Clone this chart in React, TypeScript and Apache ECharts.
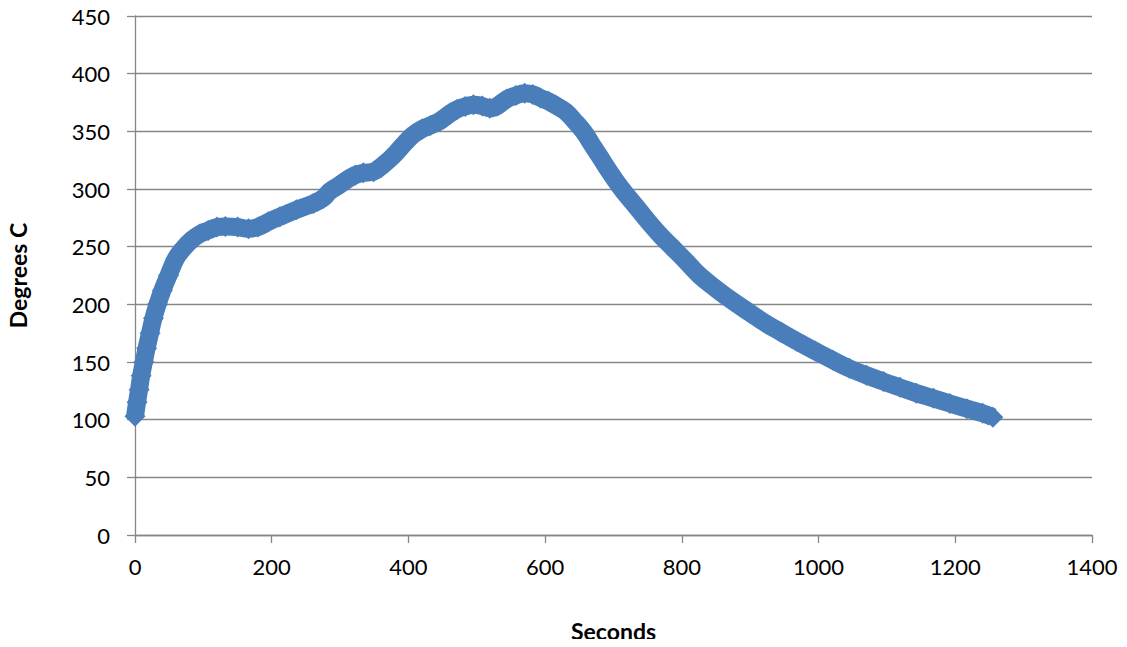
import React, { useEffect, useRef } from "react";
import * as echarts from "echarts";

const seconds: number[] = [
  0, 3, 6, 9, 13, 17, 22, 27, 33, 40, 49, 60, 70, 83, 95, 107, 120, 132, 150, 166,
  180, 195, 212, 236, 261, 275, 285, 298, 310, 322, 334, 349, 363, 373, 383, 395,
  407, 420, 432, 446, 460, 471, 483, 495, 508, 519, 530, 544, 557, 570, 582, 593,
  605, 617, 630, 643, 656, 668, 680, 693, 712, 730, 752, 770, 785, 805, 826, 850,
  875, 900, 924, 946, 968, 995, 1021, 1045, 1070, 1095, 1119, 1143, 1168, 1192,
  1217, 1240, 1255,
];
const degrees: number[] = [
  103, 115, 126, 138, 150, 162, 175, 188, 200, 212, 225, 240, 248, 256, 261, 264,
  267, 267.5, 267, 265.5, 267, 271.5, 276, 282, 287.5, 292, 298, 303, 308, 312,
  314, 315, 321, 326, 332, 340, 347, 352, 355, 359, 365, 369, 371.5, 373, 372,
  370, 372, 378, 381, 383, 382, 379, 376, 372, 367, 359, 350, 339, 328, 316, 300,
  287, 271, 259, 250, 238, 225, 213.5, 202.5, 192.5, 183, 175.5, 168, 159.5, 151.5,
  144.5, 138.5, 133, 128, 123, 118.5, 114, 109.5, 105.5, 102,
];
const xTicks = { min: 0, max: 1400, interval: 200 };
const yTicks = { min: 0, max: 450, interval: 50 };

export default function App() {
  const ref = useRef<HTMLDivElement>(null);
  useEffect(() => {
    if (!ref.current) return;
    const chart = echarts.init(ref.current, undefined, { renderer: "svg" });
    const grey = "#868686";
    const font = "Lato, 'Open Sans', sans-serif";
    const plain = (v: number) => String(v);
    chart.setOption({
      animation: false,
      backgroundColor: "#ffffff",
      grid: { left: 135, right: 35, top: 16, bottom: 112, containLabel: false, outerBoundsMode: "none" },
      xAxis: {
        type: "value",
        ...xTicks,
        name: "Seconds",
        nameLocation: "middle",
        nameGap: 84,
        nameTextStyle: { fontFamily: font, fontWeight: "bold", fontSize: 23, color: "#000" },
        axisLine: { show: true, lineStyle: { color: grey, width: 1.3 } },
        axisTick: { show: true, length: 8, lineStyle: { color: grey, width: 1.3 } },
        axisLabel: { fontFamily: font, fontSize: 22, color: "#000", margin: 20, formatter: plain },
        splitLine: { show: false },
      },
      yAxis: {
        type: "value",
        ...yTicks,
        name: "Degrees C",
        nameLocation: "middle",
        nameGap: 106,
        nameTextStyle: { fontFamily: font, fontWeight: "bold", fontSize: 23, color: "#000" },
        axisLine: { show: true, lineStyle: { color: grey, width: 1.3 } },
        axisTick: { show: true, length: 8, lineStyle: { color: grey, width: 1.3 } },
        axisLabel: { fontFamily: font, fontSize: 22, color: "#000", margin: 25, formatter: plain },
        splitLine: { show: true, lineStyle: { color: grey, width: 1.3 } },
      },
      series: [
        {
          type: "line",
          data: seconds.map((s, i) => [s, degrees[i]]),
          smooth: 0.4,
          symbol: "diamond",
          symbolSize: 21,
          showSymbol: true,
          showAllSymbol: true,
          lineStyle: { color: "#4A7EBB", width: 18, cap: "butt", join: "round" },
          itemStyle: { color: "#4A7EBB", borderWidth: 0 },
        },
      ],
    });
    return () => chart.dispose();
  }, []);
  return <div ref={ref} style={{ width: 1127, height: 647, margin: -8 }} />;
}
